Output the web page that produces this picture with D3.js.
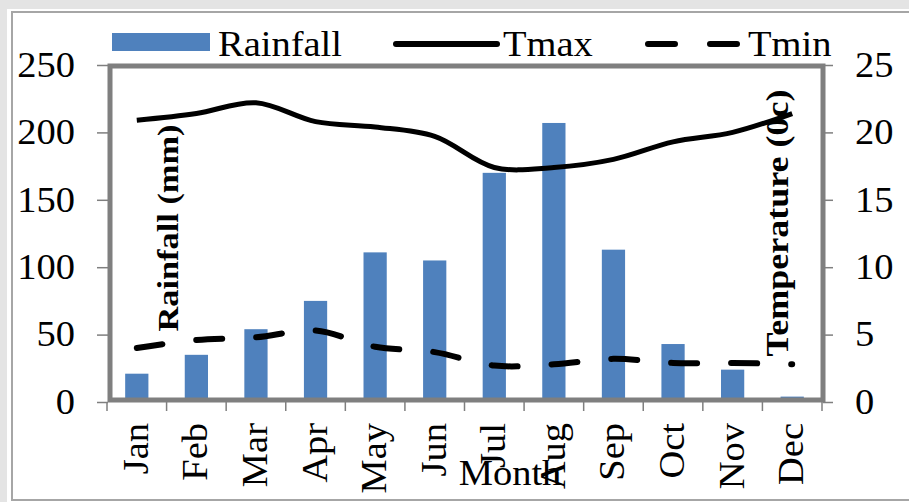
<!DOCTYPE html>
<html>
<head>
<meta charset="utf-8">
<script src="https://cdn.jsdelivr.net/npm/d3@7"></script>
<style>
  html, body { margin: 0; padding: 0; background: #e4e4e4; }
  svg { display: block; }
  text { font-family: "Liberation Serif", "Times New Roman", serif !important; fill: #000; }
</style>
</head>
<body>
<svg id="chart" width="909" height="502"></svg>
<script>
// Monthly climate data
const months = ["Jan", "Feb", "Mar", "Apr", "May", "Jun", "Jul", "Aug", "Sep", "Oct", "Nov", "Dec"];
const rainfall = [21, 35, 54, 75, 111, 105, 170, 207, 113, 43, 24, 4];
const tmax = [20.9, 21.4, 22.2, 20.8, 20.4, 19.7, 17.4, 17.4, 18.0, 19.3, 20.0, 21.4];
const tmin = [4.0, 4.6, 4.8, 5.3, 4.1, 3.7, 2.7, 2.8, 3.2, 2.9, 2.9, 2.8];
const rainTicks = [0, 50, 100, 150, 200, 250];
const tempTicks = [0, 5, 10, 15, 20, 25];

const svg = d3.select("#chart");
const FS = 35, SX = 1.1;
const FONT = "'Liberation Serif', 'Times New Roman', serif";
const grey = "#7f7f7f", blue = "#4f81bd";

// card background and border
svg.append("rect").attr("x", 7).attr("y", 9).attr("width", 910).attr("height", 500).attr("fill", "#fff");
svg.append("rect").attr("x", 12).attr("y", 12).attr("width", 905).attr("height", 488)
  .attr("fill", "none").attr("stroke", "#a6a6a6").attr("stroke-width", 2);

const x = d3.scaleBand().domain(months).range([107, 822]).padding(0);
const yL = d3.scaleLinear().domain([0, 250]).range([402, 65]);
const yR = d3.scaleLinear().domain([0, 25]).range([402, 65]);
const barW = x.bandwidth() * 0.39;
const cx = m => x(m) + x.bandwidth() / 2;

// bars
svg.append("g").selectAll("rect").data(months).join("rect")
  .attr("x", d => cx(d) - barW / 2)
  .attr("width", barW)
  .attr("y", (d, i) => yL(rainfall[i]))
  .attr("height", (d, i) => yL(0) - yL(rainfall[i]))
  .attr("fill", blue);

// plot frame
svg.append("rect").attr("x", 110).attr("y", 66).attr("width", 713).attr("height", 334)
  .attr("fill", "none").attr("stroke", grey).attr("stroke-width", 5);

// left axis
const gL = svg.append("g").attr("transform", "translate(108,0)")
  .call(d3.axisLeft(yL).tickValues(rainTicks).tickSize(11).tickSizeOuter(0))
  .attr("font-family", FONT);
gL.select(".domain").remove();
gL.selectAll(".tick line").attr("stroke", grey).attr("stroke-width", 1.5);
gL.selectAll(".tick text").attr("x", null).attr("dy", "0.32em")
  .attr("transform", `translate(-33,0) scale(${SX},1)`)
  .style("font-size", FS + "px").style("font-family", FONT);

// right axis
const gR = svg.append("g").attr("transform", "translate(823,0)")
  .call(d3.axisRight(yR).tickValues(tempTicks).tickSize(10).tickSizeOuter(0))
  .attr("font-family", FONT);
gR.select(".domain").remove();
gR.selectAll(".tick line").attr("stroke", grey).attr("stroke-width", 1.5);
gR.selectAll(".tick text").attr("x", null).attr("dy", "0.32em")
  .attr("transform", `translate(32,0) scale(${SX},1)`)
  .style("font-size", FS + "px").style("font-family", FONT);

// category boundary ticks
const bounds = months.map(m => x(m)).concat([x.range()[1]]);
svg.append("g").selectAll("line").data(bounds).join("line")
  .attr("x1", d => d).attr("x2", d => d).attr("y1", 402).attr("y2", 411)
  .attr("stroke", grey).attr("stroke-width", 1.5);

// month labels
svg.append("g").selectAll("text").data(months).join("text")
  .attr("transform", d => `translate(${cx(d) + 11},423) rotate(-90) scale(${SX},1)`)
  .attr("text-anchor", "end")
  .style("font-size", FS + "px").style("font-family", FONT)
  .text(d => d);

// axis titles
svg.append("text")
  .attr("transform", "translate(178,228) rotate(-90)")
  .attr("text-anchor", "middle")
  .attr("textLength", 207).attr("lengthAdjust", "spacingAndGlyphs")
  .style("font-size", "30px").style("font-weight", "bold").style("font-family", FONT)
  .text("Rainfall (mm)");
svg.append("text")
  .attr("transform", "translate(788,223) rotate(-90)")
  .attr("text-anchor", "middle")
  .attr("textLength", 267).attr("lengthAdjust", "spacingAndGlyphs")
  .style("font-size", "32px").style("font-weight", "bold").style("font-family", FONT)
  .text("Temperature (0c)");
svg.append("text")
  .attr("transform", `translate(510,485) scale(${SX},1)`)
  .attr("text-anchor", "middle")
  .style("font-size", FS + "px").style("font-family", FONT)
  .text("Month");

// temperature lines
const line = d3.line().x((d, i) => cx(months[i])).y(d => yR(d)).curve(d3.curveCatmullRom);
svg.append("path").attr("d", line(tmax))
  .attr("fill", "none").attr("stroke", "#000").attr("stroke-width", 5).attr("stroke-linejoin", "round");
svg.append("path").attr("d", line(tmin))
  .attr("fill", "none").attr("stroke", "#000").attr("stroke-width", 6)
  .attr("stroke-dasharray", "26,34").attr("stroke-linecap", "round");

// legend
const lg = svg.append("g");
lg.append("rect").attr("x", 112).attr("y", 33).attr("width", 98).attr("height", 18).attr("fill", blue);
lg.append("text").attr("transform", `translate(218,56) scale(${SX},1)`)
  .style("font-size", FS + "px").style("font-family", FONT).text("Rainfall");
lg.append("line").attr("x1", 396).attr("x2", 497).attr("y1", 44).attr("y2", 44)
  .attr("stroke", "#000").attr("stroke-width", 6).attr("stroke-linecap", "round");
lg.append("text").attr("transform", `translate(503,56) scale(${SX},1)`)
  .style("font-size", FS + "px").style("font-family", FONT).text("Tmax");
lg.append("line").attr("x1", 648).attr("x2", 737).attr("y1", 44).attr("y2", 44)
  .attr("stroke", "#000").attr("stroke-width", 6).attr("stroke-linecap", "round")
  .attr("stroke-dasharray", "27,35");
lg.append("text").attr("transform", `translate(748,56) scale(${SX},1)`)
  .style("font-size", FS + "px").style("font-family", FONT).text("Tmin");
</script>
</body>
</html>
